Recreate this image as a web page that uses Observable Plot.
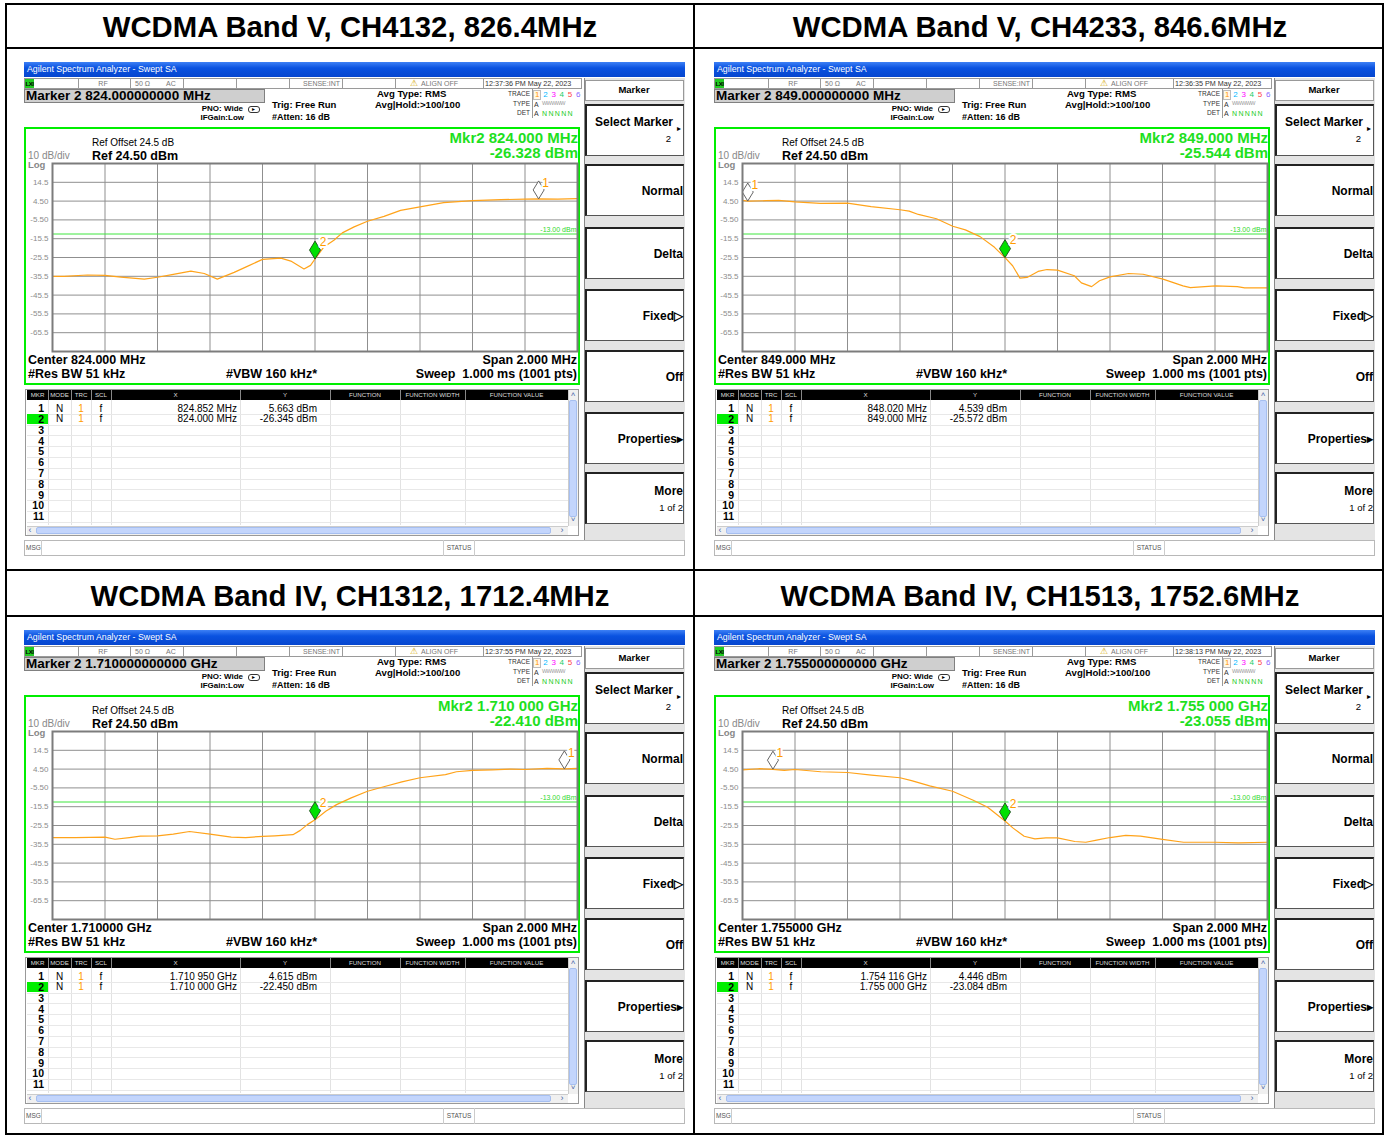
<!DOCTYPE html>
<html><head><meta charset="utf-8">
<script src="https://cdn.jsdelivr.net/npm/d3@7"></script>
<script src="https://cdn.jsdelivr.net/npm/@observablehq/plot@0.6"></script>
<style>
body{margin:0;background:#fff;font-family:Arial,"Liberation Sans",sans-serif;}
#root{position:relative;width:1389px;height:1135px;overflow:hidden;background:#fff;}
.a{position:absolute;white-space:nowrap;line-height:1;box-sizing:border-box;}
</style></head><body><div id="root"></div>
<script>
// ---------------- data ----------------
const titles = ["WCDMA Band V, CH4132, 826.4MHz", "WCDMA Band V, CH4233, 846.6MHz", "WCDMA Band IV, CH1312, 1712.4MHz", "WCDMA Band IV, CH1513, 1752.6MHz"];
const timestamps = ["12:37:36 PM May 22, 2023", "12:36:35 PM May 22, 2023", "12:37:55 PM May 22, 2023", "12:38:13 PM May 22, 2023"];
const markerLines = ["Marker 2 824.000000000 MHz", "Marker 2 849.000000000 MHz", "Marker 2 1.710000000000 GHz", "Marker 2 1.755000000000 GHz"];
const mkr2FreqText = ["Mkr2 824.000 MHz", "Mkr2 849.000 MHz", "Mkr2 1.710 000 GHz", "Mkr2 1.755 000 GHz"];
const mkr2LevelText = ["-26.328 dBm", "-25.544 dBm", "-22.410 dBm", "-23.055 dBm"];
const centerText = ["Center 824.000 MHz", "Center 849.000 MHz", "Center 1.710000 GHz", "Center 1.755000 GHz"];
const tableX1 = ["824.852 MHz", "848.020 MHz", "1.710 950 GHz", "1.754 116 GHz"];
const tableY1 = ["5.663 dBm", "4.539 dBm", "4.615 dBm", "4.446 dBm"];
const tableX2 = ["824.000 MHz", "849.000 MHz", "1.710 000 GHz", "1.755 000 GHz"];
const tableY2 = ["-26.345 dBm", "-25.572 dBm", "-22.450 dBm", "-23.084 dBm"];

const centerMHz = [824, 849, 1710, 1755];
const spanMHz = 2;
const refLevel = 24.5;
const dbPerDiv = 10;
const limitLevel = -13;
const yTickValues = [14.5, 4.5, -5.5, -15.5, -25.5, -35.5, -45.5, -55.5, -65.5];
const yTickLabels = ["14.5", "4.50", "-5.50", "-15.5", "-25.5", "-35.5", "-45.5", "-55.5", "-65.5"];

const marker1Freq = [824.852, 848.020, 1710.950, 1754.116];
const marker1Level = [5.663, 4.539, 4.615, 4.446];
const marker2Freq = [824.000, 849.000, 1710.000, 1755.000];
const marker2Level = [-26.345, -25.572, -22.450, -23.084];

const traceFreq1 = [823.000, 823.044, 823.133, 823.200, 823.260, 823.350, 823.400, 823.450, 823.527, 823.578, 823.628, 823.692, 823.742, 823.800, 823.870, 823.908, 823.958, 823.983, 824.000, 824.034, 824.072, 824.104, 824.149, 824.200, 824.263, 824.326, 824.400, 824.490, 824.600, 824.708, 824.800, 824.852, 824.925, 825.000];
const traceLevel1 = [-35.5, -35.5, -34.8, -35.0, -35.9, -37.0, -36.0, -34.7, -32.7, -34.0, -37.0, -33.4, -30.2, -26.5, -25.8, -27.4, -31.6, -29.7, -26.3, -19.9, -16.3, -12.4, -9.2, -6.2, -3.6, -0.4, 1.4, 3.7, 4.8, 5.3, 5.5, 5.7, 5.6, 5.8];
const traceFreq2 = [848.000, 848.021, 848.090, 848.138, 848.200, 848.297, 848.400, 848.490, 848.600, 848.635, 848.670, 848.739, 848.801, 848.849, 848.905, 848.960, 849.000, 849.029, 849.057, 849.084, 849.126, 849.160, 849.200, 849.264, 849.291, 849.330, 849.360, 849.400, 849.471, 849.526, 849.602, 849.678, 849.706, 849.802, 849.885, 849.913, 850.000];
const traceLevel2 = [4.9, 4.5, 4.7, 4.9, 4.1, 3.3, 3.4, 1.6, -0.1, -0.8, -2.6, -4.9, -8.9, -10.8, -14.4, -20.1, -25.6, -29.9, -36.5, -36.1, -32.9, -31.9, -32.2, -35.2, -39.0, -41.0, -37.9, -35.8, -34.0, -34.4, -37.0, -40.6, -41.5, -40.6, -41.0, -41.7, -41.7];
const traceFreq3 = [1709.000, 1709.086, 1709.200, 1709.238, 1709.293, 1709.335, 1709.400, 1709.460, 1709.522, 1709.600, 1709.681, 1709.736, 1709.800, 1709.847, 1709.916, 1709.944, 1709.972, 1710.000, 1710.041, 1710.082, 1710.138, 1710.200, 1710.262, 1710.331, 1710.400, 1710.497, 1710.539, 1710.600, 1710.676, 1710.745, 1710.800, 1710.884, 1710.950, 1711.000];
const traceLevel3 = [-31.9, -31.9, -31.7, -32.8, -31.9, -31.2, -31.0, -30.1, -28.7, -30.1, -31.7, -31.9, -31.3, -31.0, -30.4, -28.1, -24.9, -22.5, -17.9, -14.4, -10.8, -7.3, -4.9, -2.3, -0.1, 1.6, 3.1, 3.8, 4.1, 4.5, 4.3, 4.9, 4.6, 4.9];
const traceFreq4 = [1754.000, 1754.062, 1754.116, 1754.159, 1754.200, 1754.298, 1754.400, 1754.491, 1754.600, 1754.644, 1754.713, 1754.800, 1754.879, 1754.934, 1755.000, 1755.031, 1755.073, 1755.114, 1755.156, 1755.200, 1755.266, 1755.308, 1755.349, 1755.400, 1755.460, 1755.516, 1755.600, 1755.680, 1755.800, 1755.889, 1756.000];
const traceLevel4 = [4.1, 4.7, 4.4, 3.8, 4.3, 3.1, 2.7, 1.3, -0.1, -1.6, -4.4, -7.3, -12.1, -15.8, -23.1, -26.9, -31.2, -32.6, -32.1, -32.1, -34.0, -34.4, -33.3, -31.9, -30.8, -31.2, -32.9, -34.4, -34.4, -34.7, -34.4];
const traceFreqs = [traceFreq1, traceFreq2, traceFreq3, traceFreq4];
const traceLevels = [traceLevel1, traceLevel2, traceLevel3, traceLevel4];

const softKeys = ["Select Marker", "Normal", "Delta", "Fixed\u25B7", "Off", "Properties\u25B8", "More"];
const tableHeaders = ["MKR", "MODE", "TRC", "SCL", "X", "Y", "FUNCTION", "FUNCTION WIDTH", "FUNCTION VALUE"];

// ---------------- helpers ----------------
const root = document.getElementById("root");
function box(p, x, y, w, h, css) {
  const d = document.createElement("div");
  d.className = "a";
  d.style.cssText = `left:${x}px;top:${y}px;width:${w}px;height:${h}px;` + (css || "");
  p.appendChild(d);
  return d;
}
function txt(p, x, y, s, fs, o = {}) {
  const d = document.createElement("div");
  d.className = "a";
  d.textContent = s;
  const tx = o.align === "right" ? "-100%" : o.align === "center" ? "-50%" : "0";
  d.style.cssText = `left:${x}px;top:${y - fs * 0.5}px;font-size:${fs}px;font-weight:${o.bold ? "bold" : "normal"};color:${o.color || "#000"};transform:translateX(${tx});` + (o.css || "");
  p.appendChild(d);
  return d;
}

// outer table lines
[[5, 3, 1379, 2], [5, 47, 1379, 2], [5, 569, 1379, 2], [5, 615, 1379, 2], [5, 1133, 1379, 2],
 [5, 3, 2, 1132], [693, 3, 2, 1132], [1382, 3, 2, 1132]].forEach(([x, y, w, h]) => box(root, x, y, w, h, "background:#000;"));

const tallDiamond = {
  draw(ctx) {
    const w = 5.5, h = 18;
    ctx.moveTo(0, 0); ctx.lineTo(w, -h / 2); ctx.lineTo(0, -h); ctx.lineTo(-w, -h / 2); ctx.closePath();
  }
};

function buildPanel(i) {
  const col = i % 2, row = Math.floor(i / 2);
  txt(root, 350 + col * 690, 26.5 + row * 569, titles[i], 29.3, {bold: true, align: "center"});
  const ox = 24 + col * 690, oy = 62 + row * 568;
  const P = box(root, ox, oy, 661, 494, "background:#fff;");

  // title bar
  box(P, 0, 0, 661, 15, "background:linear-gradient(#3d80f5,#0a52e0 40%,#0646cf);");
  txt(P, 3, 7.5, "Agilent Spectrum Analyzer - Swept SA", 8.8, {color: "#fff"});

  // status row
  box(P, 0, 16, 558, 11, "border:1px solid #9a9a9a;background:#fff;");
  [54, 106, 159, 212, 265, 318, 371, 459].forEach(x => box(P, x, 16, 1, 11, "background:#9a9a9a;"));
  box(P, 1, 17, 9, 9, "background:#22cc22;");
  txt(P, 1.5, 21.5, "LXI", 6, {bold: true, css: "letter-spacing:-0.5px;"});
  txt(P, 79, 21.5, "RF", 7, {color: "#777", align: "center"});
  txt(P, 111, 21.5, "50 \u03A9", 7, {color: "#777"});
  txt(P, 142, 21.5, "AC", 7, {color: "#777"});
  txt(P, 316, 21.5, "SENSE:INT", 7, {color: "#777", align: "right"});
  txt(P, 386, 21.5, "\u26A0", 9, {color: "#d4a800"});
  txt(P, 397, 21.5, "ALIGN OFF", 7, {color: "#777"});
  txt(P, 461, 21.5, timestamps[i], 7.2, {color: "#333"});

  // marker line
  box(P, 0, 27, 241, 14, "background:#cfcfcf;border:1px solid #808080;");
  txt(P, 2, 34, markerLines[i], 13.5, {bold: true});
  txt(P, 219, 47, "PNO: Wide", 8, {bold: true, align: "right"});
  box(P, 224, 43.5, 12, 7, "border:1px solid #333;border-radius:3px;");
  txt(P, 228, 47, "\u25B8", 6, {});
  txt(P, 220, 56, "IFGain:Low", 8, {bold: true, align: "right"});
  txt(P, 248, 43, "Trig: Free Run", 9.5, {bold: true});
  txt(P, 248, 55, "#Atten: 16 dB", 9, {bold: true});
  txt(P, 353, 32, "Avg Type: RMS", 9.6, {bold: true});
  txt(P, 351, 43, "Avg|Hold:>100/100", 9.6, {bold: true});
  txt(P, 506, 32, "TRACE", 6.5, {color: "#333", align: "right"});
  txt(P, 506, 42, "TYPE", 6.5, {color: "#333", align: "right"});
  txt(P, 506, 51, "DET", 6.5, {color: "#333", align: "right"});
  box(P, 508, 27, 1, 29, "background:#999;");
  box(P, 509, 27.5, 8, 10, "border:1px solid #bbb;background:#fff8e8;");
  const tc = ["#ff9900", "#00b8ff", "#ff00ff", "#22cc66", "#ff4444", "#8866ff"];
  tc.forEach((c, k) => txt(P, 511 + k * 8.2, 32.5, String(k + 1), 8, {color: c}));
  txt(P, 510, 42, "A", 7, {color: "#333"});
  txt(P, 518, 42, "WWWWW", 5.5, {color: "#999", css: "letter-spacing:-0.6px;"});
  txt(P, 510, 51, "A", 7, {color: "#333"});
  txt(P, 518, 51, "N N N N N", 7, {color: "#22cc22", css: "letter-spacing:-0.3px;"});

  // soft keys
  box(P, 560, 16, 101, 463, "background:#e4e4e4;border-left:1px solid #888;");
  box(P, 561, 18, 99, 21, "background:#fff;border:1px solid #999;");
  txt(P, 610, 28, "Marker", 9.5, {bold: true, align: "center"});
  const keyTops = [42, 102, 165, 227, 288, 350, 410];
  keyTops.forEach((t, k) => {
    box(P, 561, t, 99, 52, "background:#fff;border-top:2px solid #222;border-left:2px solid #222;border-right:1px solid #555;border-bottom:1px solid #555;");
  });
  txt(P, 649, 60, softKeys[0], 12, {bold: true, align: "right"});
  txt(P, 653, 67, "\u25B8", 8, {});
  txt(P, 647, 77, "2", 9.5, {align: "right"});
  [1, 2, 3, 4, 5].forEach(k => txt(P, 659, keyTops[k] + 27, softKeys[k], 12, {bold: true, align: "right"}));
  txt(P, 659, 429, "More", 12, {bold: true, align: "right"});
  txt(P, 659, 446, "1 of 2", 9.5, {align: "right"});

  // green measurement box
  box(P, 0, 65, 556, 258, "border:2px solid #00ee00;");
  txt(P, 68, 81, "Ref Offset 24.5 dB", 10, {});
  txt(P, 4, 94, "10 dB/div", 10, {color: "#888"});
  txt(P, 68, 94, "Ref 24.50 dBm", 12.5, {bold: true});
  txt(P, 4, 103, "Log", 9.5, {color: "#888", bold: true});
  txt(P, 554, 75, mkr2FreqText[i], 15, {bold: true, color: "#1ee01e", align: "right"});
  txt(P, 554, 90, mkr2LevelText[i], 15, {bold: true, color: "#1ee01e", align: "right"});
  txt(P, 4, 298, centerText[i], 12.5, {bold: true});
  txt(P, 4, 312, "#Res BW 51 kHz", 12.5, {bold: true});
  txt(P, 202, 312, "#VBW 160 kHz*", 12.5, {bold: true});
  txt(P, 553, 298, "Span 2.000 MHz", 12.5, {bold: true, align: "right"});
  txt(P, 553, 312, "Sweep  1.000 ms (1001 pts)", 12.5, {bold: true, align: "right", css: "white-space:pre;"});

  // graticule with Plot
  const c = centerMHz[i];
  const x0 = c - spanMHz / 2, x1 = c + spanMHz / 2;
  const xGrid = d3.range(1, 10).map(k => x0 + k * spanMHz / 10);
  const trace = traceFreqs[i].map((f, j) => ({f, l: traceLevels[i][j]}));
  const m1 = [{f: marker1Freq[i], l: marker1Level[i]}];
  const m2 = [{f: marker2Freq[i], l: marker2Level[i]}];
  const svg = Plot.plot({
    width: 552, height: 194,
    marginLeft: 26, marginRight: 1, marginTop: 3, marginBottom: 3,
    x: {domain: [x0, x1], axis: null},
    y: {domain: [refLevel - 10 * dbPerDiv, refLevel], axis: null},
    style: {background: "transparent", fontFamily: "Arial, 'Liberation Sans', sans-serif", overflow: "visible"},
    marks: [
      Plot.ruleX(xGrid, {stroke: "#8f8f8f", strokeWidth: 1}),
      Plot.ruleY(yTickValues, {stroke: "#8f8f8f", strokeWidth: 1}),
      Plot.axisY(yTickValues, {tickSize: 0, tickPadding: 4, fontSize: 8, fill: "#8c8c8c", label: null,
        tickFormat: d => yTickLabels[yTickValues.indexOf(d)]}),
      Plot.ruleY([limitLevel], {stroke: "#3ee63e", strokeWidth: 1}),
      Plot.text(["-13.00 dBm"], {x: x1, y: limitLevel, text: d => d, textAnchor: "end", dy: -4.5, dx: -1, fontSize: 7, fill: "#2ed82e"}),
      Plot.line(trace, {x: "f", y: "l", stroke: "#ffa31a", strokeWidth: 1.2}),
      Plot.dot(m1, {x: "f", y: "l", symbol: tallDiamond, fill: "#fff", stroke: "#555", strokeWidth: 0.9}),
      Plot.dot(m2, {x: "f", y: "l", symbol: tallDiamond, fill: "#00e000", stroke: "#1d4d1d", strokeWidth: 0.9}),
      Plot.text(m1, {x: "f", y: "l", text: () => "1", dx: 7, dy: -16, fontSize: 12, fill: "#ff9c00", stroke: "#fff", strokeWidth: 4}),
      Plot.text(m2, {x: "f", y: "l", text: () => "2", dx: 8, dy: -17, fontSize: 12, fill: "#ff9c00", stroke: "#fff", strokeWidth: 4}),
      Plot.frame({stroke: "#7c7c7c", strokeWidth: 2})
    ]
  });
  svg.style.position = "absolute";
  svg.style.left = "2px";
  svg.style.top = "98px";
  P.appendChild(svg);

  // marker table
  box(P, 1, 327, 554, 147, "border:1px solid #999;background:#fff;");
  const cols = [[3, 24], [24, 47], [47, 67], [67, 87], [87, 216], [216, 306], [306, 376], [376, 441], [441, 544]];
  box(P, 3, 328, 541, 10, "background:#000;");
  cols.forEach(([a, b], k) => {
    if (k > 0) box(P, a, 328, 1, 10, "background:#888;");
    txt(P, (a + b) / 2, 333, tableHeaders[k], 6.2, {color: "#ddd", align: "center"});
    if (k > 0) box(P, a, 338, 1, 125, "background:#e2e2e2;");
  });
  for (let r = 1; r <= 11; r++) {
    const cy = 346.5 + (r - 1) * 10.8;
    box(P, 3, cy + 5.2, 541, 1, "background:#e8e8e8;");
    if (r === 2) box(P, 3, cy - 5, 21, 10, "background:#00ee00;");
    txt(P, 20, cy, String(r), 10.5, {bold: true, align: "right"});
  }
  [[tableX1, tableY1], [tableX2, tableY2]].forEach(([X, Y], r) => {
    const cy = 346.5 + r * 10.8;
    txt(P, 35.5, cy, "N", 10, {align: "center"});
    txt(P, 57, cy, "1", 10, {color: "#ff9c00", align: "center"});
    txt(P, 77, cy, "f", 10, {align: "center"});
    txt(P, 213, cy, X[i], 10, {align: "right"});
    txt(P, 293, cy, Y[i], 10, {align: "right"});
  });
  // scrollbars
  box(P, 544, 328, 10, 136, "background:#f0f0f0;border-left:1px solid #ccc;");
  box(P, 545, 338, 8, 117, "background:#c3d5fc;border:1px solid #a6bff0;border-radius:2px;");
  txt(P, 549, 333, "\u02C4", 8, {color: "#4466aa", align: "center"});
  txt(P, 549, 458, "\u02C5", 8, {color: "#4466aa", align: "center"});
  box(P, 3, 464, 541, 9, "background:#f0f0f0;border-top:1px solid #ccc;");
  box(P, 12, 465, 515, 7, "background:#c3d5fc;border:1px solid #a6bff0;border-radius:2px;");
  txt(P, 6, 468.5, "\u2039", 9, {color: "#4466aa", align: "center"});
  txt(P, 538, 468.5, "\u203A", 9, {color: "#4466aa", align: "center"});

  // message bar
  box(P, 0, 478, 661, 16, "border:1px solid #b8b8b8;background:#fff;");
  box(P, 17, 478, 1, 16, "background:#ccc;");
  txt(P, 2, 486, "MSG", 6.5, {color: "#555"});
  box(P, 419, 478, 32, 16, "border-left:1px solid #ccc;border-right:1px solid #ccc;");
  txt(P, 435, 486, "STATUS", 6.5, {color: "#555", align: "center"});
}
[0, 1, 2, 3].forEach(buildPanel);
</script></body></html>
